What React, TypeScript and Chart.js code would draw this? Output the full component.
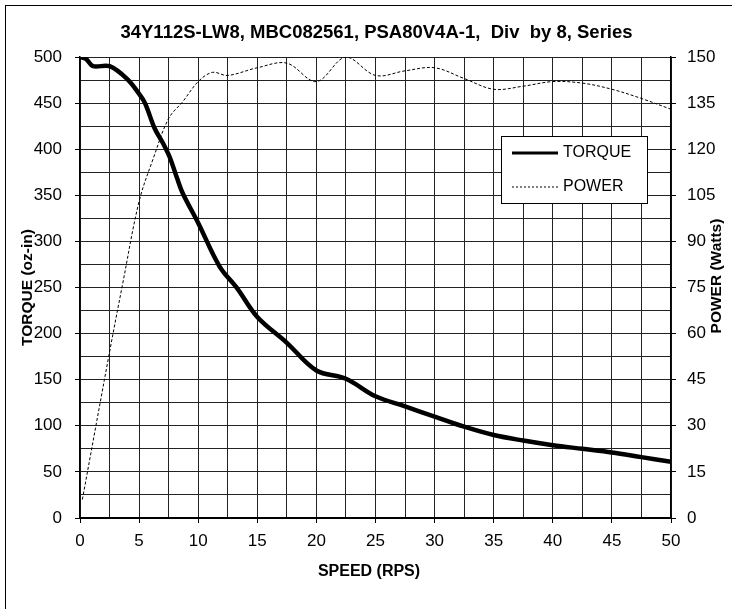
import React, { useEffect, useRef } from "react";
import { Chart, registerables } from "chart.js";

Chart.register(...registerables);

const titleText = "34Y112S-LW8, MBC082561, PSA80V4A-1,  Div  by 8, Series";
const xTitle = "SPEED (RPS)";
const yTitle = "TORQUE (oz-in)";
const y2Title = "POWER (Watts)";
const seriesNames = ["TORQUE", "POWER"];

const torqueSpeed = [0, 0.5, 1.1, 2.5, 4, 5, 5.5, 6.3, 7, 7.6, 8.2, 8.7, 10, 11.8, 13.3, 15, 17.5, 20, 22.5, 25, 27.5, 30, 32.5, 35, 37.5, 40, 42.5, 45, 47.5, 50];
const torque = [500, 498, 490, 490, 476, 460, 450, 423, 407, 391, 369, 352, 320, 273, 249, 218, 190, 160, 151, 132, 121, 110, 99, 90, 84, 79, 75, 71, 66, 61];

const powerSpeed = [0.2, 2.5, 3.6, 5, 6.2, 7.5, 8.7, 10, 11.2, 12.5, 15, 17.5, 20, 22.5, 25, 27.5, 30, 32.5, 35, 37.5, 40, 42.5, 45, 47.5, 50];
const power = [6, 54, 76, 103, 117, 130, 135.5, 142, 145, 144, 146.5, 148, 142, 150, 144, 145.5, 146.5, 143, 139.5, 140.5, 142, 141.5, 139.5, 136.5, 133];

const FONT = "'Liberation Sans', Arial, sans-serif";

const isMult = (v: number, m: number) => Math.abs(v / m - Math.round(v / m)) < 1e-6;

const decor = {
  id: "decor",
  beforeDraw(chart: any) {
    const ctx = chart.ctx;
    ctx.save();
    ctx.fillStyle = "#fff";
    ctx.fillRect(0, 0, chart.width, chart.height);
    ctx.strokeStyle = "#000";
    ctx.lineWidth = 1;
    ctx.strokeRect(5.5, 5.5, chart.width + 20, chart.height + 20);
    ctx.restore();
  },
  afterDraw(chart: any) {
    const ctx = chart.ctx;
    const a = chart.chartArea;
    ctx.save();
    ctx.fillStyle = "#000";
    ctx.textAlign = "center";
    ctx.textBaseline = "middle";
    ctx.font = `bold 18.5px ${FONT}`;
    ctx.fillText(titleText, (a.left + a.right) / 2 + 1, 33);
    ctx.font = `bold 16px ${FONT}`;
    ctx.fillText(xTitle, 369, 572);
    ctx.font = `bold 15.5px ${FONT}`;
    ctx.save();
    ctx.translate(28, (a.top + a.bottom) / 2);
    ctx.rotate(-Math.PI / 2);
    ctx.fillText(yTitle, 0, 0);
    ctx.restore();
    ctx.save();
    ctx.translate(717, 276);
    ctx.rotate(-Math.PI / 2);
    ctx.fillText(y2Title, 0, 0);
    ctx.restore();

    // legend
    const lx = 501.5, ly = 136.5, lw = 146, lh = 67;
    ctx.fillStyle = "#fff";
    ctx.fillRect(lx, ly, lw, lh);
    ctx.strokeStyle = "#000";
    ctx.lineWidth = 1;
    ctx.strokeRect(lx, ly, lw, lh);
    ctx.beginPath();
    ctx.lineWidth = 3;
    ctx.moveTo(512, 153);
    ctx.lineTo(558, 153);
    ctx.stroke();
    ctx.beginPath();
    ctx.lineWidth = 1;
    ctx.setLineDash([2, 2]);
    ctx.moveTo(512, 187);
    ctx.lineTo(558, 187);
    ctx.stroke();
    ctx.setLineDash([]);
    ctx.fillStyle = "#000";
    ctx.textAlign = "left";
    ctx.font = `16px ${FONT}`;
    ctx.fillText(seriesNames[0], 563, 153);
    ctx.fillText(seriesNames[1], 563, 187);
    ctx.restore();
  },
};

export default function App() {
  const ref = useRef<HTMLCanvasElement | null>(null);
  useEffect(() => {
    if (!ref.current) return;
    const chart = new Chart(ref.current, {
      type: "line",
      data: {
        datasets: [
          {
            label: seriesNames[0],
            data: torqueSpeed.map((x, i) => ({ x, y: torque[i] })),
            borderColor: "#000",
            borderWidth: 4.5,
            pointRadius: 0,
            tension: 0.35,
            yAxisID: "y",
          },
          {
            label: seriesNames[1],
            data: powerSpeed.map((x, i) => ({ x, y: power[i] })),
            borderColor: "#000",
            borderWidth: 1,
            borderDash: [3, 2],
            pointRadius: 0,
            tension: 0.35,
            yAxisID: "y2",
          },
        ],
      },
      options: {
        responsive: false,
        animation: false,
        layout: { padding: { top: 57, left: 0, right: 0, bottom: 0 } },
        plugins: { legend: { display: false }, title: { display: false }, tooltip: { enabled: false } },
        scales: {
          x: {
            type: "linear",
            min: 0,
            max: 50,
            ticks: {
              stepSize: 2.5,
              autoSkip: false,
              maxRotation: 0,
              padding: 8,
              color: "#000",
              font: { family: FONT, size: 17 },
              callback: (v: any) => (isMult(Number(v), 5) ? String(Math.round(Number(v))) : ""),
            },
            grid: {
              color: "#222",
              lineWidth: 1,
              tickLength: 5,
              tickColor: (c: any) => (c.tick && isMult(c.tick.value, 5) ? "#000" : "rgba(0,0,0,0)"),
            },
            border: { color: "#000", width: 2 },
            afterFit: (s: any) => { s.height = 91; },
          },
          y: {
            position: "left",
            min: 0,
            max: 500,
            ticks: {
              stepSize: 25,
              autoSkip: false,
              padding: 13,
              color: "#000",
              font: { family: FONT, size: 17 },
              callback: (v: any) => (isMult(Number(v), 50) ? String(Math.round(Number(v))) : ""),
            },
            grid: {
              color: "#222",
              lineWidth: 1,
              tickLength: 5,
              tickColor: (c: any) => (c.tick && isMult(c.tick.value, 50) ? "#000" : "rgba(0,0,0,0)"),
            },
            border: { color: "#000", width: 1.5 },
            afterFit: (s: any) => { s.width = 80; },
          },
          y2: {
            position: "right",
            min: 0,
            max: 150,
            ticks: {
              stepSize: 7.5,
              autoSkip: false,
              padding: 11,
              color: "#000",
              font: { family: FONT, size: 17 },
              callback: (v: any) => (isMult(Number(v), 15) ? String(Math.round(Number(v))) : ""),
            },
            grid: {
              drawOnChartArea: false,
              tickLength: 5,
              tickColor: (c: any) => (c.tick && isMult(c.tick.value, 15) ? "#000" : "rgba(0,0,0,0)"),
            },
            border: { color: "#000", width: 1.5 },
            afterFit: (s: any) => { s.width = 61; },
          },
        },
      } as any,
      plugins: [decor],
    });
    return () => chart.destroy();
  }, []);
  return (
    <div style={{ position: "absolute", left: 0, top: 0, width: 732, height: 609 }}>
      <canvas ref={ref} width={732} height={609} style={{ display: "block" }} />
    </div>
  );
}
